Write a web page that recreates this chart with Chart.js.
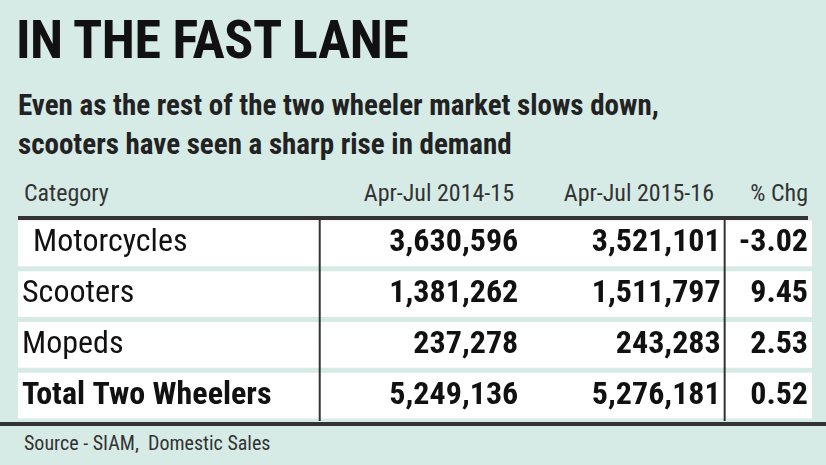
<!DOCTYPE html>
<html><head><meta charset="utf-8">
<script src="https://cdn.jsdelivr.net/npm/chart.js@4"></script>
<style>
html,body{margin:0;padding:0;background:#d6ebe6;width:826px;height:465px;overflow:hidden}
.t{position:absolute;font-family:"Roboto Condensed","Liberation Sans Narrow","Liberation Sans",sans-serif;color:#111;white-space:nowrap}
#wrap{position:absolute;left:0;top:0;width:826px;height:465px}
</style></head><body>
<div class="t" style="left:16px;top:8px;font-size:54px;font-weight:bold;letter-spacing:-0.5px">IN THE FAST LANE</div>
<div class="t" style="left:18px;top:86px;font-size:29px;font-weight:bold;color:#222;line-height:39px">Even as the rest of the two wheeler market slows down,<br>scooters have seen a sharp rise in demand</div>
<div class="t" style="left:24px;top:179px;font-size:24px;color:#333">Category</div>
<div class="t" style="right:312px;top:179px;font-size:24px;color:#333">Apr-Jul 2014-15</div>
<div class="t" style="right:112px;top:179px;font-size:24px;color:#333">Apr-Jul 2015-16</div>
<div class="t" style="right:18px;top:179px;font-size:24px;color:#333">% Chg</div>
<div class="t" style="left:24px;top:431px;font-size:20px;color:#333">Source - SIAM,&nbsp;&nbsp;Domestic Sales</div>
<div id="wrap"><canvas id="c" width="826" height="465"></canvas></div>
<script>
const categories=["Motorcycles","Scooters","Mopeds","Total Two Wheelers"];
const sales2014=["3,630,596","1,381,262","237,278","5,249,136"];
const sales2015=["3,521,101","1,511,797","243,283","5,276,181"];
const pctChg=["-3.02","9.45","2.53","0.52"];
const boldRows=[false,false,false,true];

const tablePlugin={id:'tbl',afterDatasetsDraw(ch){
  const c=ch.ctx,a=ch.chartArea,x=ch.scales.x,y=ch.scales.y;
  const fam='"Roboto Condensed","Liberation Sans Narrow","Liberation Sans",sans-serif';
  const c1=x.getPixelForValue(2.52),c2=x.getPixelForValue(3.54),c3=x.getPixelForValue(3.98);
  const v1=x.getPixelForValue(1.52),v2=x.getPixelForValue(3.56);
  c.save();
  c.strokeStyle='#333';c.lineWidth=4;
  c.beginPath();c.moveTo(a.left,a.top);c.lineTo(a.right-4,a.top);c.stroke();
  c.beginPath();c.moveTo(a.left-18,a.bottom+3);c.lineTo(a.right+14,a.bottom+3);c.stroke();
  c.lineWidth=2;
  c.beginPath();c.moveTo(v1,a.top);c.lineTo(v1,a.bottom);c.moveTo(v2,a.top);c.lineTo(v2,a.bottom);c.stroke();
  c.fillStyle='#111';c.textBaseline='middle';
  categories.forEach((cat,i)=>{
    const py=y.getPixelForValue(i);
    c.font=(boldRows[i]?'bold ':'')+'32px '+fam;
    c.textAlign='left';c.fillText(cat,a.left+(i===0?15:4),py);
    c.font='bold 32px '+fam;
    c.textAlign='right';
    c.fillText(sales2014[i],c1,py);
    c.fillText(sales2015[i],c2,py);
    c.fillText(pctChg[i],c3,py);
  });
  c.restore();
}};
new Chart(document.getElementById('c'),{
  type:'bar',
  data:{labels:categories,datasets:[{data:categories.map(()=>[0,4]),backgroundColor:'#ffffff',barPercentage:0.9,categoryPercentage:1}]},
  options:{indexAxis:'y',responsive:false,animation:false,
    layout:{padding:{top:218,bottom:44,left:18,right:14}},
    plugins:{legend:{display:false},tooltip:{enabled:false}},
    scales:{x:{min:0,max:4,display:false},y:{display:false}}},
  plugins:[tablePlugin]
});
</script></body></html>
